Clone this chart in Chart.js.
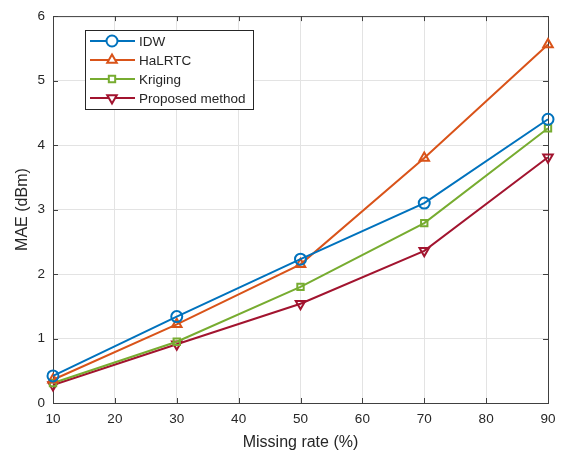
<!DOCTYPE html>
<html>
<head>
<meta charset="utf-8">
<script src="https://cdn.jsdelivr.net/npm/chart.js@4"></script>
<style>
  html, body { margin: 0; padding: 0; background: #fff; }
  #wrap { width: 575px; height: 455px; }
</style>
</head>
<body>
<div id="wrap"><canvas id="grafico"></canvas></div>
<script>
// dados
const missingRate = [10, 30, 50, 70, 90];
const idw = [0.42, 1.34, 2.23, 3.10, 4.40];
const halrtc = [0.36, 1.22, 2.15, 3.80, 5.56];
const kriging = [0.31, 0.95, 1.80, 2.79, 4.26];
const proposed = [0.28, 0.91, 1.54, 2.36, 3.81];
const xTicks = [10, 20, 30, 40, 50, 60, 70, 80, 90];
const yTicks = [0, 1, 2, 3, 4, 5, 6];

const FONT = 'Arial, "Liberation Sans", Helvetica, sans-serif';
const AXIS_COLOR = '#404040';

function pts(ys) {
  return missingRate.map((x, i) => ({ x: x, y: ys[i] }));
}

function serie(label, ys, color, style, rot) {
  return {
    label: label,
    data: pts(ys),
    borderColor: color,
    backgroundColor: color,
    borderWidth: 2,
    pointStyle: style,
    pointRotation: rot || 0,
    pointRadius: style === 'rect' ? 4.5 : 5.5,
    pointBorderWidth: 2,
    pointBackgroundColor: 'rgba(255,255,255,0)',
    pointBorderColor: color,
    tension: 0,
    clip: false
  };
}

// moldura, ticks internos e legenda estilo MATLAB
const matlabStyle = {
  id: 'matlabStyle',
  beforeDatasetsDraw(chart) {
    const ctx = chart.ctx;
    const a = chart.chartArea;
    const xs = chart.scales.x, ys = chart.scales.y;
    ctx.save();
    ctx.strokeStyle = AXIS_COLOR;
    ctx.lineWidth = 1;
    ctx.strokeRect(a.left + 0.5, a.top + 0.5, a.right - a.left, a.bottom - a.top);
    ctx.beginPath();
    xTicks.forEach(v => {
      const px = Math.round(xs.getPixelForValue(v)) + 0.5;
      ctx.moveTo(px, a.bottom); ctx.lineTo(px, a.bottom - 5);
      ctx.moveTo(px, a.top); ctx.lineTo(px, a.top + 5);
    });
    yTicks.forEach(v => {
      const py = Math.round(ys.getPixelForValue(v)) + 0.5;
      ctx.moveTo(a.left, py); ctx.lineTo(a.left + 5, py);
      ctx.moveTo(a.right, py); ctx.lineTo(a.right - 5, py);
    });
    ctx.stroke();
    ctx.restore();
  },
  afterDraw(chart) {
    const ctx = chart.ctx;
    ctx.save();
    // legenda
    const bx = 85, by = 30, bw = 168, bh = 79;
    ctx.fillStyle = '#fff';
    ctx.fillRect(bx, by, bw, bh);
    ctx.strokeStyle = '#262626';
    ctx.lineWidth = 1;
    ctx.strokeRect(bx + 0.5, by + 0.5, bw, bh);
    chart.data.datasets.forEach((ds, i) => {
      const yy = by + 11 + i * 19;
      ctx.strokeStyle = ds.borderColor;
      ctx.lineWidth = 2;
      ctx.beginPath();
      ctx.moveTo(bx + 5, yy); ctx.lineTo(bx + 50, yy);
      ctx.stroke();
      ctx.fillStyle = '#fff';
      Chart.helpers.drawPoint(ctx, {
        pointStyle: ds.pointStyle,
        rotation: ds.pointRotation,
        radius: ds.pointRadius,
        borderWidth: 2
      }, bx + 27, yy);
      ctx.fillStyle = '#262626';
      ctx.font = '13.5px ' + FONT;
      ctx.textBaseline = 'middle';
      ctx.textAlign = 'left';
      ctx.fillText(ds.label, bx + 54, yy + 1);
    });
    ctx.restore();
  }
};

new Chart(document.getElementById('grafico'), {
  type: 'line',
  data: {
    datasets: [
      serie('IDW', idw, '#0072BD', 'circle'),
      serie('HaLRTC', halrtc, '#D95319', 'triangle'),
      serie('Kriging', kriging, '#77AC30', 'rect'),
      serie('Proposed method', proposed, '#A2142F', 'triangle', 180)
    ]
  },
  options: {
    responsive: true,
    maintainAspectRatio: false,
    animation: false,
    layout: { padding: { top: 13, right: 27, left: 0, bottom: 0 } },
    plugins: {
      legend: { display: false },
      tooltip: { enabled: false }
    },
    scales: {
      x: {
        type: 'linear',
        min: 10, max: 90,
        afterBuildTicks: s => { s.ticks = xTicks.map(v => ({ value: v })); },
        afterFit: s => { s.height = 52; },
        grid: { color: '#e3e3e3', drawTicks: false },
        border: { display: false },
        ticks: { color: '#262626', font: { family: FONT, size: 13.5 }, padding: 8, maxRotation: 0 },
        title: { display: true, text: 'Missing rate (%)', color: '#262626', font: { family: FONT, size: 16 }, padding: { top: 2, bottom: 3 } }
      },
      y: {
        min: 0, max: 6,
        afterBuildTicks: s => { s.ticks = yTicks.map(v => ({ value: v })); },
        afterFit: s => { s.width = 53; },
        grid: { color: '#e3e3e3', drawTicks: false },
        border: { display: false },
        ticks: { color: '#262626', font: { family: FONT, size: 13.5 }, padding: 8 },
        title: { display: true, text: 'MAE (dBm)', color: '#262626', font: { family: FONT, size: 16 }, padding: { top: 13, bottom: 0 } }
      }
    }
  },
  plugins: [matlabStyle]
});
</script>
</body>
</html>
